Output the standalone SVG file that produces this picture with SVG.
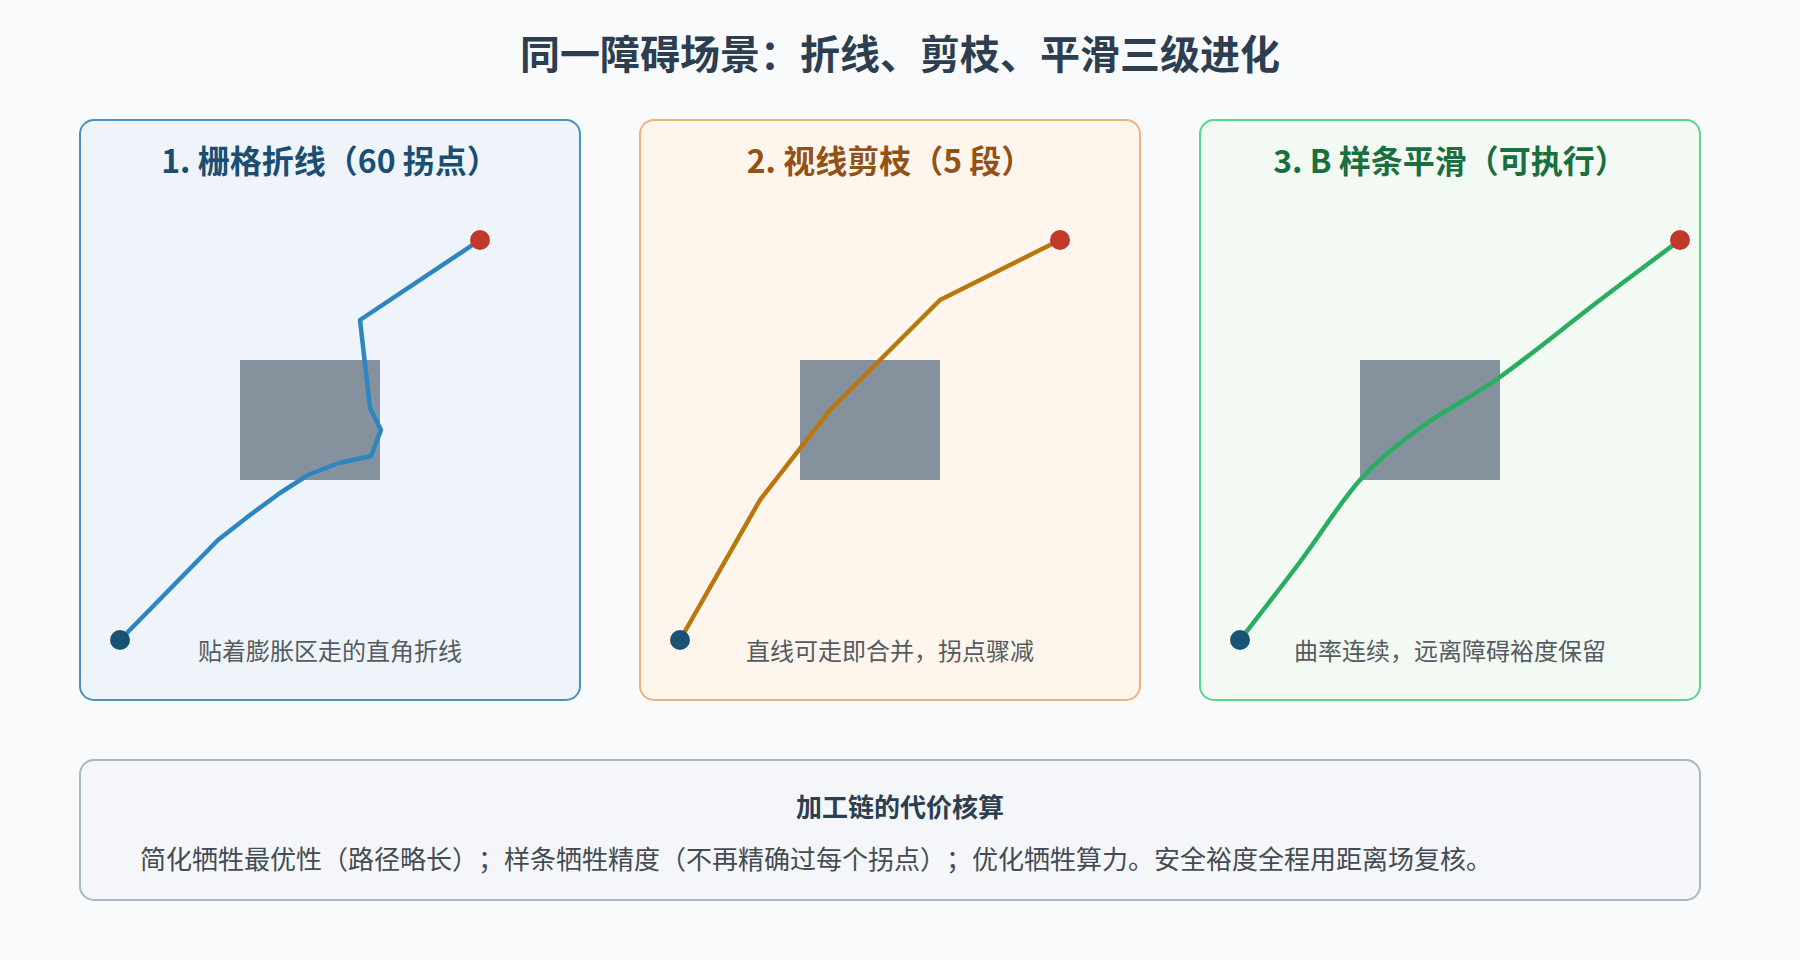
<svg xmlns="http://www.w3.org/2000/svg" width="1800" height="960" viewBox="0 0 1800 960">
<style>
text{font-family:"Noto Sans CJK SC","Noto Sans",sans-serif;text-spacing-trim:space-all}
.h{font-size:40px;font-weight:700;fill:#2c3e50;text-anchor:middle}
.pt{font-size:32px;font-weight:700;text-anchor:middle}
.cap{font-size:24px;fill:#555b61;text-anchor:middle}
.obs{fill:#85929e}
.route{fill:none;stroke-width:4.5;stroke-linejoin:round;stroke-linecap:round}
.s{fill:#1a5276}
.e{fill:#c0392b}
</style>
<rect x="0" y="0" width="1800" height="960" fill="#f8fafc"/>
<text class="h" x="900" y="69">同一障碍场景：折线、剪枝、平滑三级进化</text>

<g id="panel-grid">
<rect x="80" y="120" width="500" height="580" rx="14" fill="#eef4f9" stroke="#4a90c4" stroke-width="2"/>
<text class="pt" x="330" y="173" fill="#1a4f73">1. 栅格折线（60 拐点）</text>
<rect class="obs" x="240" y="360" width="140" height="120"/>
<polyline class="route" stroke="#2e86c1" points="120,640 218,540 250,515 280,493 308,475 339,463 371,456 381,430 370,408 360,320 480,240"/>
<circle class="s" cx="120" cy="640" r="10"/>
<circle class="e" cx="480" cy="240" r="10"/>
<text class="cap" x="330" y="660">贴着膨胀区走的直角折线</text>
</g>

<g id="panel-prune">
<rect x="640" y="120" width="500" height="580" rx="14" fill="#fef6ec" stroke="#f0b27a" stroke-width="2"/>
<text class="pt" x="890" y="173" fill="#935116">2. 视线剪枝（5 段）</text>
<rect class="obs" x="800" y="360" width="140" height="120"/>
<polyline class="route" stroke="#b9770e" points="680,640 760,500 830,410 940,300 1060,240"/>
<circle class="s" cx="680" cy="640" r="10"/>
<circle class="e" cx="1060" cy="240" r="10"/>
<text class="cap" x="890" y="660">直线可走即合并，拐点骤减</text>
</g>

<g id="panel-spline">
<rect x="1200" y="120" width="500" height="580" rx="14" fill="#f3f9f3" stroke="#58d68d" stroke-width="2"/>
<text class="pt" x="1450" y="173" fill="#196f3d">3. B 样条平滑（可执行）</text>
<rect class="obs" x="1360" y="360" width="140" height="120"/>
<path class="route" stroke="#27ae60" d="M1240,640 C1250,627 1280,588.7 1300,562 C1320,535.3 1340,502.3 1360,480 C1380,457.7 1396.7,445.2 1420,428 C1443.3,410.8 1470,398.3 1500,377 C1530,355.7 1570,322.8 1600,300 C1630,277.2 1666.7,250 1680,240"/>
<circle class="s" cx="1240" cy="640" r="10"/>
<circle class="e" cx="1680" cy="240" r="10"/>
<text class="cap" x="1450" y="660">曲率连续，远离障碍裕度保留</text>
</g>

<g id="cost-note">
<rect x="80" y="760" width="1620" height="140" rx="14" fill="#f4f6f9" stroke="#aab7c4" stroke-width="2"/>
<text x="900" y="817" font-size="26" font-weight="700" fill="#2c3e50" text-anchor="middle">加工链的代价核算</text>
<text x="140" y="869" font-size="26" fill="#444b52">简化牺牲最优性（路径略长）；样条牺牲精度（不再精确过每个拐点）；优化牺牲算力。安全裕度全程用距离场复核。</text>
</g>
<g id="connectors"/>
</svg>
